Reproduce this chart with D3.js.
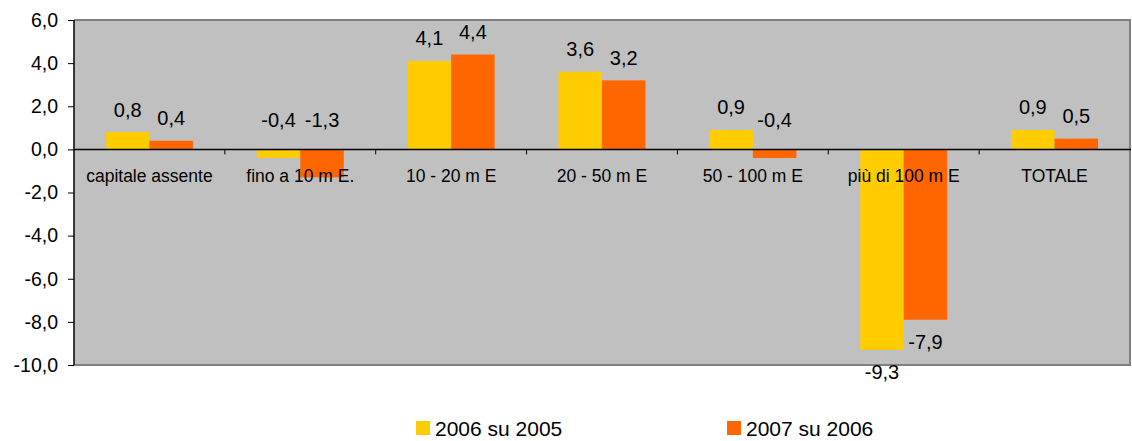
<!DOCTYPE html>
<html>
<head>
<meta charset="utf-8">
<script src="https://cdn.jsdelivr.net/npm/d3@7"></script>
<style>
  body { margin: 0; background: #fff; }
  svg { display: block; font-family: "Liberation Sans", Arial, sans-serif; }
</style>
</head>
<body>
<svg width="1132" height="441"></svg>
<script>
// data
const categories = ["capitale assente", "fino a 10 m E.", "10 - 20 m E", "20 - 50 m E", "50 - 100 m E", "più di 100 m E", "TOTALE"];
const seriesNames = ["2006 su 2005", "2007 su 2006"];
const values2006 = [0.8, -0.4, 4.1, 3.6, 0.9, -9.3, 0.9];
const values2007 = [0.4, -1.3, 4.4, 3.2, -0.4, -7.9, 0.5];
const yTicks = [6, 4, 2, 0, -2, -4, -6, -8, -10];
const colors = ["#FFCC00", "#FF6600"];

const svg = d3.select("svg");
const plot = { left: 74, right: 1130, top: 20, bottom: 365 };

const fmt = v => d3.format(".1f")(v).replace(".", ",").replace("−", "-");

const x0 = d3.scaleBand().domain(categories).range([plot.left, plot.right]).padding(0);
const x1 = d3.scaleBand().domain(seriesNames).range([0, x0.bandwidth()])
    .paddingInner(0).paddingOuter(0.734);
const y = d3.scaleLinear().domain([-10, 6]).range([plot.bottom, plot.top]);

// plot background
svg.append("rect")
    .attr("x", plot.left).attr("y", plot.top)
    .attr("width", plot.right - plot.left).attr("height", plot.bottom - plot.top)
    .attr("fill", "#C0C0C0");

// grey frame top / right / bottom
svg.append("path")
    .attr("d", `M${plot.left},${plot.top}H${plot.right}V${plot.bottom}H${plot.left}`)
    .attr("fill", "none").attr("stroke", "#808080").attr("stroke-width", 2);

// rows of data
const rows = categories.map((c, i) => ({ cat: c, vals: [values2006[i], values2007[i]] }));

const groups = svg.append("g").selectAll("g")
    .data(rows).join("g")
    .attr("transform", d => `translate(${x0(d.cat)},0)`);

groups.selectAll("rect")
    .data(d => d.vals.map((v, j) => ({ v, s: seriesNames[j], j })))
    .join("rect")
    .attr("x", d => x1(d.s))
    .attr("width", x1.bandwidth())
    .attr("y", d => y(Math.max(0, d.v)))
    .attr("height", d => Math.abs(y(d.v) - y(0)))
    .attr("fill", d => colors[d.j]);

// zero axis with category ticks
svg.append("line")
    .attr("x1", plot.left).attr("x2", plot.right + 1)
    .attr("y1", y(0)).attr("y2", y(0))
    .attr("stroke", "#000").attr("stroke-width", 1.5);

svg.append("g").selectAll("line")
    .data(categories.slice(1))
    .join("line")
    .attr("x1", d => x0(d)).attr("x2", d => x0(d))
    .attr("y1", y(0)).attr("y2", y(0) + 5)
    .attr("stroke", "#000").attr("stroke-width", 1);

// category labels
svg.append("g").selectAll("text")
    .data(categories)
    .join("text")
    .attr("x", d => x0(d) + x0.bandwidth() / 2)
    .attr("y", y(0) + 33)
    .attr("text-anchor", "middle")
    .attr("font-size", 17.5)
    .attr("fill", "#000")
    .text(d => d);

// value labels
groups.selectAll("text")
    .data(d => d.vals.map((v, j) => ({ v, s: seriesNames[j] })))
    .join("text")
    .attr("x", d => x1(d.s) + x1.bandwidth() / 2)
    .attr("y", d => {
        if (d.v >= 0) return y(d.v) - 15.5;
        if (d.v > -5) return y(0) - 22;
        return y(d.v) + 29;
    })
    .attr("text-anchor", "middle")
    .attr("font-size", 20)
    .attr("fill", "#000")
    .text(d => fmt(d.v));

// y axis
const yAxis = svg.append("g")
    .attr("transform", `translate(${plot.left},0)`)
    .call(d3.axisLeft(y).tickValues(yTicks).tickSize(6).tickPadding(10).tickFormat(fmt));
yAxis.select(".domain").attr("stroke", "#000").attr("stroke-width", 1.5)
    .attr("d", `M0,${plot.top}V${plot.bottom}`);
yAxis.selectAll(".tick line").attr("stroke", "#000");
yAxis.selectAll(".tick text")
    .attr("font-size", 19.5)
    .attr("font-family", "Liberation Sans, Arial, sans-serif")
    .attr("fill", "#000");

// legend
const legendX = [416, 727];
const legend = svg.append("g").selectAll("g")
    .data(seriesNames)
    .join("g")
    .attr("transform", (d, i) => `translate(${legendX[i]},421)`);
legend.append("rect")
    .attr("width", 14).attr("height", 14)
    .attr("fill", (d, i) => colors[i]);
legend.append("text")
    .attr("x", 19).attr("y", 14.5)
    .attr("font-size", 21)
    .attr("fill", "#000")
    .text(d => d);
</script>
</body>
</html>
